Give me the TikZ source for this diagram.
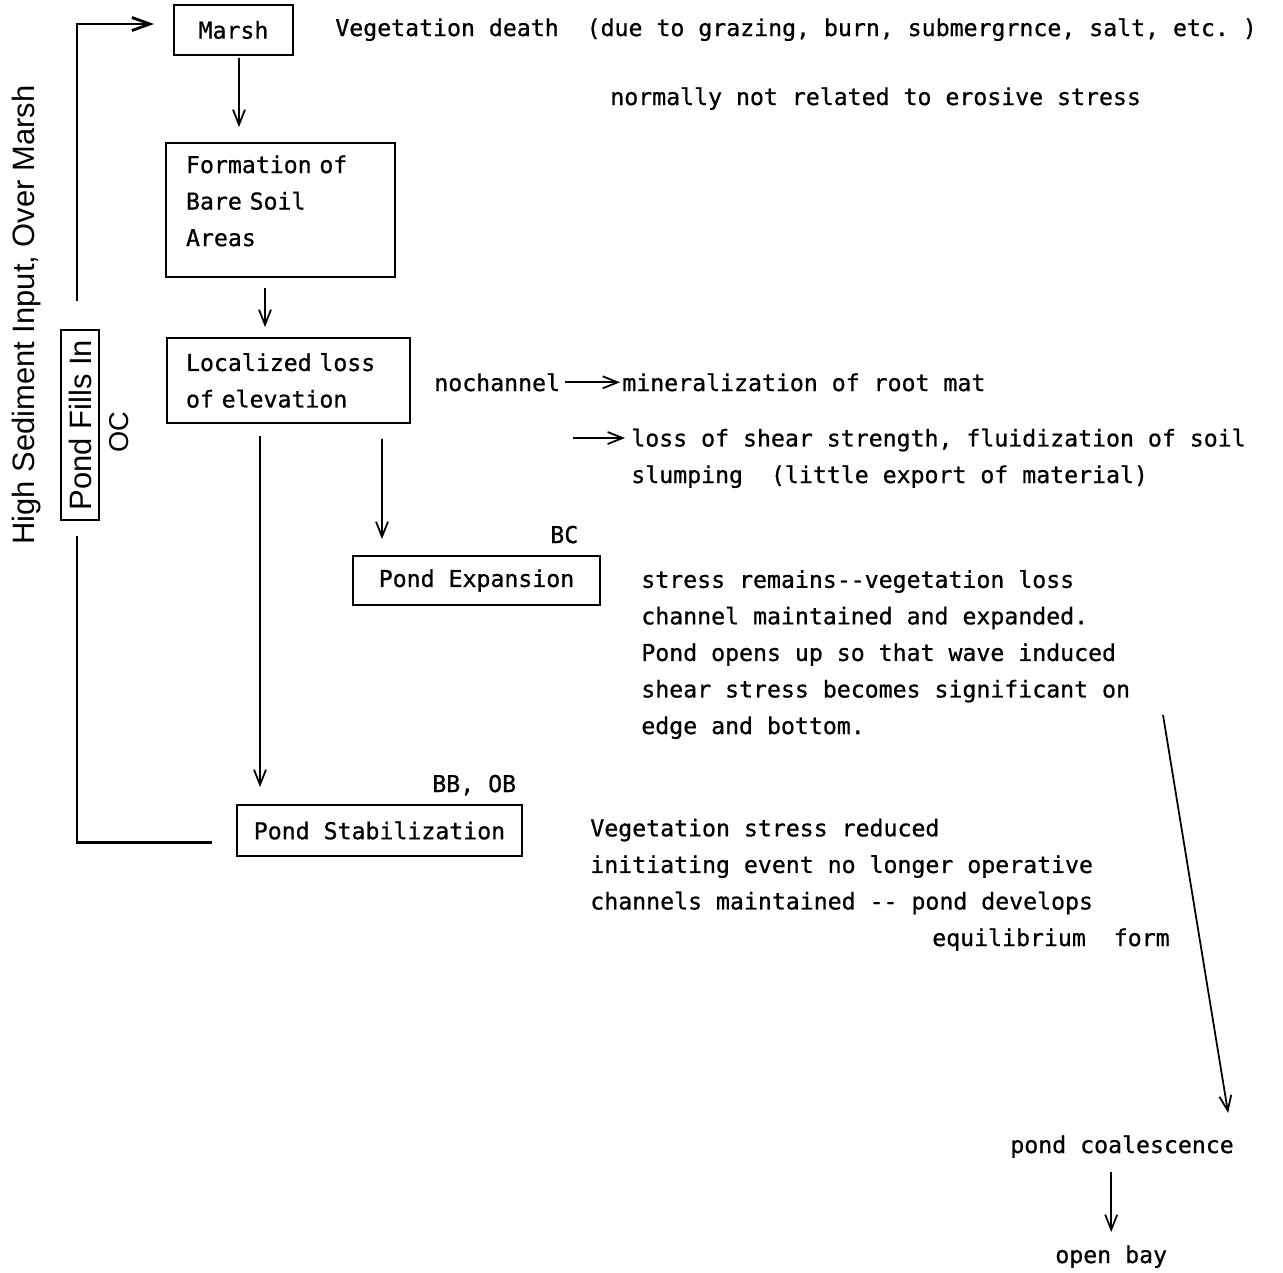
\documentclass[tikz,border=0pt]{standalone}
\usepackage{fontspec}
\setmainfont{DejaVu Sans Mono}[FakeBold=0.8]
\newfontfamily\helv{Liberation Sans}
\usepackage{tikz}
\usetikzlibrary{calc,positioning,arrows.meta}

\newcommand\diagfont{\fontsize{13.2}{20.8}\selectfont}
\newcommand\sidefont{\helv\fontsize{17.6}{20}\selectfont}

\tikzset{
	box/.style={draw,line width=1.1pt,inner sep=0pt},
	txt/.style={inner sep=0pt,anchor=base west,align=left},
	flow/.style={-{Straight Barb[length=0.3cm,width=0.24cm]},line width=1pt},
	loopline/.style={line width=1.6pt}
}

\begin{document}
\begin{tikzpicture}[x=0.02cm,y=-0.02cm,font=\diagfont]
	\useasboundingbox (0,0) rectangle (1283,1272);
	% boxes
	\node[box,minimum width=2.38cm,minimum height=1cm] (marsh) at (233.5,30) {Marsh};
	\node[box,minimum height=2.68cm,text width=3.78cm,inner xsep=0.4cm,align=left] (formation) at (280.5,210) {Formation of\\Bare Soil\\Areas\\[-0.36cm]\mbox{}};
	\node[box,minimum height=1.7cm,text width=4.1cm,inner xsep=0.38cm,align=left] (localized) at (288.5,380.5) {Localized loss\\of elevation};
	\node[box,minimum width=4.94cm,minimum height=0.98cm] (expansion) at (476.5,580.5) {Pond Expansion};
	\node[box,minimum width=5.7cm,minimum height=1.02cm] (stabil) at (379.5,830.5) {Pond Stabilization};
	\node[box,rotate=90,minimum width=3.8cm,minimum height=0.76cm,inner sep=1pt,font=\sidefont] (fills) at (80,425) {Pond Fills In};
	\node[rotate=90,inner sep=0pt,font=\helv\fontsize{15.5}{18}\selectfont] (oc) at (119,432) {OC};
	\node[rotate=90,inner sep=0pt,font=\sidefont] (sediment) at (27,315) {High Sediment Input, Over Marsh};
	% texts
	\node[txt] (death) at (335,36) {Vegetation death~~(due to grazing, burn, submergrnce, salt, etc.~)};
	\node[txt] (normal) at (610,105) {normally not related to erosive stress};
	\node[txt] (nochan) at (434,391) {nochannel};
	\node[txt] (mineral) at (622,391) {mineralization of root mat};
	\node[txt] (shear) at (631,483) {loss of shear strength, fluidization of soil\\slumping~~(little export of material)};
	\node[txt] (bc) at (550,543) {BC};
	\node[txt] (remains) at (641,734) {stress remains-{}-vegetation loss\\channel maintained and expanded.\\Pond opens up so that wave induced\\shear stress becomes significant on\\edge and bottom.};
	\node[txt] (bbob) at (432,792) {BB, OB};
	\node[txt] (reduced) at (590,946) {Vegetation stress reduced\\initiating event no longer operative\\channels maintained -{}- pond develops\\\hspace*{6.84cm}equilibrium~~form};
	\node[txt] (coal) at (1010,1153) {pond coalescence};
	\node[txt] (bay) at (1055,1263) {open bay};
	% arrows
	\draw[flow] ($(marsh.south)+(5.5,2)$) -- ($(formation.north)+(-41.5,-15)$);
	\draw[flow] ($(formation.south)+(-15.5,10)$) -- ($(localized.north)+(-23.5,-10)$);
	\draw[flow] ($(localized.south)+(93.5,15)$) -- ($(expansion.north)+(-94.5,-16)$);
	\draw[flow] ($(localized.south)+(-28.5,12)$) -- ($(stabil.north)+(-119.5,-17)$);
	\draw[loopline] ($(stabil.west)+(-24,12)$) -| ($(fills.west)+(-3,15)$);
	\draw[loopline,-{Straight Barb[length=0.36cm,width=0.26cm]}] ($(fills.east)+(-3,-28)$) |- ($(marsh.west)+(-19,-6)$);
	\draw[flow,shorten <=0.1cm,shorten >=0.04cm] (nochan) -- (mineral);
	\coordinate (shear0) at (573,438);
	\draw[flow,shorten >=0.12cm] (shear0) -- (shear0 -| shear.west);
	\coordinate (diag0) at (1163,715);
	\draw[flow] (diag0) -- ($(coal.north east)+(-6,-22)$);
	\draw[flow,shorten <=0.27cm,shorten >=0.26cm] (bay.north |- coal.south) -- (bay.north);
\end{tikzpicture}
\end{document}
